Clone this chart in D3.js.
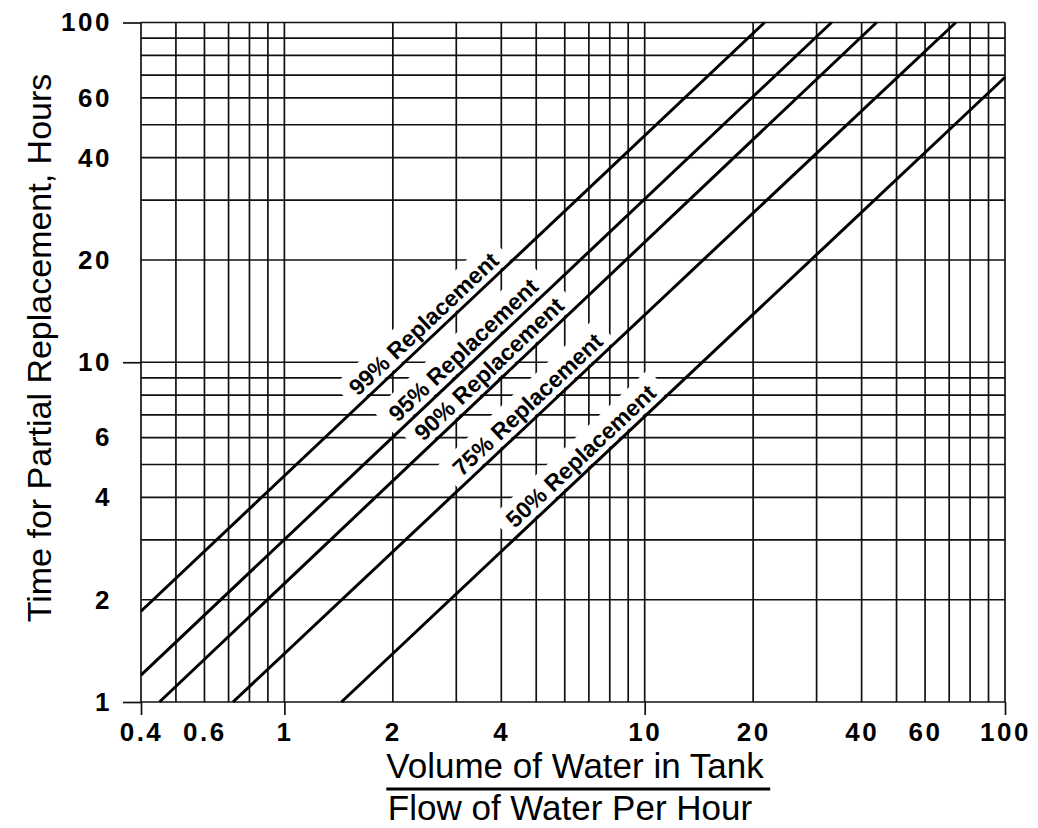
<!DOCTYPE html>
<html>
<head>
<meta charset="utf-8">
<title>Partial replacement time</title>
<style>
  body { margin: 0; background: #fff; }
  svg { display: block; }
  text { font-family: "Liberation Sans", Arial, Helvetica, sans-serif; fill: #000; }
  .tick text { font-weight: bold; font-size: 26px; letter-spacing: 2.5px; }
</style>
</head>
<body>
<div id="graph-container"></div>
<script src="https://d3js.org/d3.v7.min.js"></script>
<script>

// grid positions and labels
var xGrid = [0.4, 0.5, 0.6, 0.7, 0.8, 0.9, 1, 2, 3, 4, 5, 6, 7, 8, 9, 10, 20, 30, 40, 50, 60, 70, 80, 90, 100]
var yGrid = [1, 2, 3, 4, 5, 6, 7, 8, 9, 10, 20, 30, 40, 50, 60, 70, 80, 90, 100]
var xTickLabels = [0.4, 0.6, 1, 2, 4, 10, 20, 40, 60, 100]
var yTickLabels = [1, 2, 4, 6, 10, 20, 40, 60, 100]
var xMajor = [0.4, 1, 10, 100]
var yMajor = [1, 10, 100]

// replacement lines (start and end of each straight line)
var series = ["99% Replacement", "95% Replacement", "90% Replacement", "75% Replacement", "50% Replacement"]
var startX = [0.4, 0.4, 0.45, 0.72, 1.44]
var startY = [1.85, 1.2, 1, 1, 1]
var endX = [21.5, 33, 44, 73, 100]
var endY = [100, 100, 100, 100, 69]
// where along each line its label sits (x value)
var labelX = [2.6, 3.35, 3.95, 5.05, 7.1]

var width = 1038
var height = 828
var margin = {top: 22.5, right: 33, bottom: 126, left: 141}

var xScale = d3.scaleLog().domain([0.4, 100]).range([margin.left, width - margin.right])
var yScale = d3.scaleLog().domain([1, 100]).range([height - margin.bottom, margin.top])

var svg = d3.select("#graph-container").append("svg")
  .attr("width", width)
  .attr("height", height)

var x0 = xScale.range()[0], x1 = xScale.range()[1]
var y0 = yScale.range()[0], y1 = yScale.range()[1]

// grid
svg.append("g").selectAll("line")
  .data(xGrid)
  .enter().append("line")
  .attr("x1", d => xScale(d)).attr("x2", d => xScale(d))
  .attr("y1", y0).attr("y2", y1)
  .attr("stroke", "#111").attr("stroke-width", 1.7)

svg.append("g").selectAll("line")
  .data(yGrid)
  .enter().append("line")
  .attr("x1", x0).attr("x2", x1)
  .attr("y1", d => yScale(d)).attr("y2", d => yScale(d))
  .attr("stroke", "#111").attr("stroke-width", 1.7)

// major tick extensions
svg.append("g")
  .attr("transform", `translate(${x0},0)`)
  .call(d3.axisLeft(yScale).tickValues(yMajor).tickSize(18).tickFormat(""))
  .call(g => g.select(".domain").remove())
  .selectAll("line").attr("stroke", "#111").attr("stroke-width", 1.7)

svg.append("g")
  .attr("transform", `translate(0,${y0})`)
  .call(d3.axisBottom(xScale).tickValues(xMajor).tickSize(13).tickFormat(""))
  .call(g => g.select(".domain").remove())
  .selectAll("line").attr("stroke", "#111").attr("stroke-width", 1.7)

// tick labels
svg.append("g")
  .attr("transform", `translate(${x0},0)`)
  .call(d3.axisLeft(yScale).tickValues(yTickLabels).tickSize(0).tickPadding(29).tickFormat(d3.format("")))
  .call(g => g.select(".domain").remove())
  .selectAll("text").attr("fill", "#000")

svg.append("g")
  .attr("transform", `translate(0,${y0})`)
  .call(d3.axisBottom(xScale).tickValues(xTickLabels).tickSize(0).tickPadding(21).tickFormat(d3.format("")))
  .call(g => g.select(".domain").remove())
  .selectAll("text").attr("fill", "#000")

// label placement along each line
var lines = series.map((name, i) => {
  var t = (Math.log(labelX[i]) - Math.log(startX[i])) / (Math.log(endX[i]) - Math.log(startX[i]))
  var ly = Math.exp(Math.log(startY[i]) + t * (Math.log(endY[i]) - Math.log(startY[i])))
  var ang = Math.atan2(yScale(endY[i]) - yScale(startY[i]), xScale(endX[i]) - xScale(startX[i])) * 180 / Math.PI
  return {name: name, x0: startX[i], y0: startY[i], x1: endX[i], y1: endY[i],
          px: xScale(labelX[i]), py: yScale(ly), angle: ang}
})

var labels = svg.append("g").selectAll("g")
  .data(lines)
  .enter().append("g")
  .attr("transform", d => `translate(${d.px},${d.py}) rotate(${d.angle})`)

labels.append("text")
  .attr("y", -7)
  .attr("text-anchor", "middle")
  .style("font-size", "23px")
  .style("font-weight", "bold")
  .text(d => d.name)

// clear the grid behind each label
labels.each(function() {
  var g = d3.select(this)
  var b = g.select("text").node().getBBox()
  g.insert("rect", "text")
    .attr("x", b.x - 10).attr("y", b.y - 4)
    .attr("width", b.width + 20).attr("height", -b.y + 2)
    .attr("fill", "#fff")
})

// replacement lines
svg.append("g").selectAll("line")
  .data(lines)
  .enter().append("line")
  .attr("x1", d => xScale(d.x0)).attr("y1", d => yScale(d.y0))
  .attr("x2", d => xScale(d.x1)).attr("y2", d => yScale(d.y1))
  .attr("stroke", "#000").attr("stroke-width", 3)

// axis titles
svg.append("text")
  .attr("transform", `translate(51,348) rotate(-90)`)
  .attr("text-anchor", "middle")
  .style("font-size", "34px")
  .text("Time for Partial Replacement, Hours")

var cx = (x0 + x1) / 2
var numer = svg.append("text")
  .attr("x", cx + 2).attr("y", 778)
  .attr("text-anchor", "middle")
  .style("font-size", "35px")
  .text("Volume of Water in Tank")
var nb = numer.node().getBBox()
svg.append("line")
  .attr("x1", nb.x).attr("x2", nb.x + nb.width + 6)
  .attr("y1", 789).attr("y2", 789)
  .attr("stroke", "#000").attr("stroke-width", 3)
svg.append("text")
  .attr("x", cx - 3).attr("y", 820)
  .attr("text-anchor", "middle")
  .style("font-size", "35px")
  .text("Flow of Water Per Hour")

</script>
</body>
</html>
